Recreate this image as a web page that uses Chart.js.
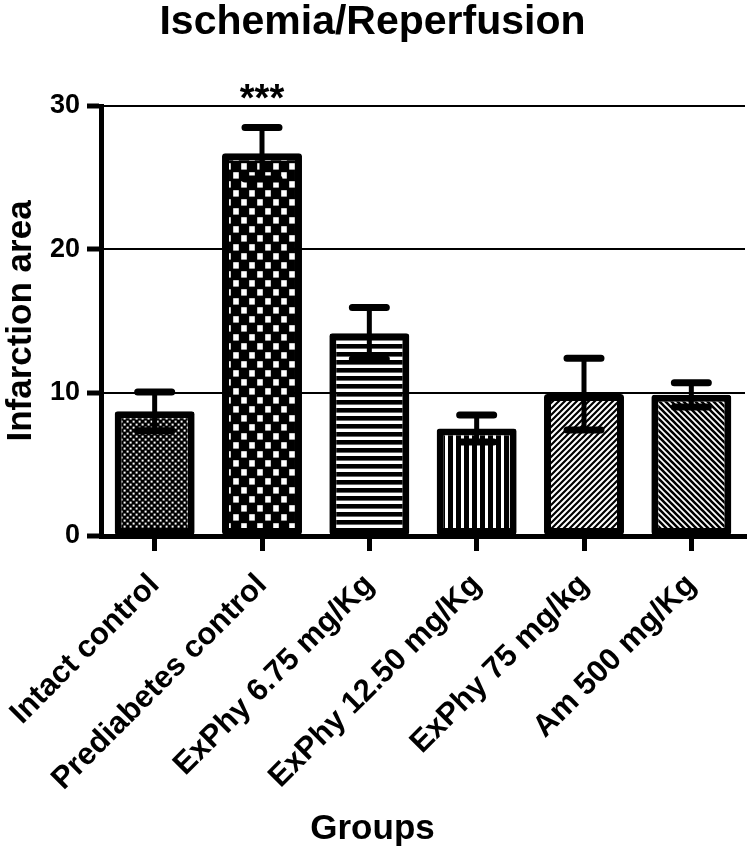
<!DOCTYPE html>
<html>
<head>
<meta charset="utf-8">
<title>Ischemia/Reperfusion</title>
<script src="https://cdn.jsdelivr.net/npm/chart.js@4.4.1/dist/chart.umd.min.js"></script>
<style>
  html, body { margin: 0; padding: 0; background: #fff; }
  #wrap { width: 747px; height: 852px; }
</style>
</head>
<body>
<div id="wrap"><canvas id="chart" width="747" height="852"></canvas></div>
<script>
// valeurs
const groups = ['Intact control', 'Prediabetes control', 'ExPhy 6.75 mg/Kg', 'ExPhy 12.50 mg/Kg', 'ExPhy 75 mg/kg', 'Am 500 mg/Kg'];
const infarctionArea = [8.7, 26.7, 14.15, 7.5, 9.9, 9.85];
const sem = [1.35, 1.8, 1.8, 0.95, 2.5, 0.85];
const stars = ['', '***', '', '', '', ''];
const yMin = 0, yMax = 30, yStep = 10;

const FONT = "'Liberation Sans', Arial, sans-serif";
const canvas = document.getElementById('chart');
const ctx = canvas.getContext('2d');

// motifs de remplissage des barres
function tile(w, h, draw) {
  const c = document.createElement('canvas');
  c.width = w; c.height = h;
  const g = c.getContext('2d');
  g.fillStyle = '#fff';
  g.fillRect(0, 0, w, h);
  g.fillStyle = '#000';
  g.strokeStyle = '#000';
  draw(g, w, h);
  return ctx.createPattern(c, 'repeat');
}

const dots = tile(6, 6, (g, w, h) => {
  g.fillRect(0, 0, w, h);
  g.fillStyle = '#fff';
  g.fillRect(0.6, 0.6, 2, 2);
  g.fillRect(3.6, 3.6, 2, 2);
});
const checker = tile(16, 18, (g, w, h) => {
  g.fillRect(0, 0, w, h);
  g.fillStyle = '#fff';
  g.fillRect(1.2, 1.2, 5.6, 6.4);
  g.fillRect(9.2, 10.2, 5.6, 6.4);
});
const hLines = tile(8, 8, (g, w, h) => {
  g.fillRect(0, 0, w, 4.6);
});
const vLines = tile(8, 8, (g, w, h) => {
  g.fillRect(0, 0, 5, h);
});
function diag(size, width, up) {
  return tile(size, size, (g, s) => {
    g.lineWidth = width;
    g.beginPath();
    if (up) {
      g.moveTo(-1, s + 1); g.lineTo(s + 1, -1);
      g.moveTo(-1, 1); g.lineTo(1, -1);
      g.moveTo(s - 1, s + 1); g.lineTo(s + 1, s - 1);
    } else {
      g.moveTo(-1, -1); g.lineTo(s + 1, s + 1);
      g.moveTo(s - 1, -1); g.lineTo(s + 1, 1);
      g.moveTo(-1, s - 1); g.lineTo(1, s + 1);
    }
    g.stroke();
  });
}
const diagUp = diag(6, 2.2, true);
const diagDown = diag(6, 2.6, false);
const fills = [dots, checker, hLines, vLines, diagUp, diagDown];

// barres d'erreur + étoiles
const errorBars = {
  id: 'errorBars',
  afterDatasetsDraw(chart) {
    const c = chart.ctx;
    const y = chart.scales.y;
    const meta = chart.getDatasetMeta(0);
    c.save();
    c.strokeStyle = '#000';
    c.lineCap = 'round';
    meta.data.forEach((bar, i) => {
      const top = y.getPixelForValue(infarctionArea[i] + sem[i]);
      const bot = y.getPixelForValue(infarctionArea[i] - sem[i]);
      c.lineWidth = 5;
      c.beginPath();
      c.moveTo(bar.x, top);
      c.lineTo(bar.x, bot);
      c.stroke();
      c.lineWidth = 7;
      c.beginPath();
      c.moveTo(bar.x - 17, top); c.lineTo(bar.x + 17, top);
      c.moveTo(bar.x - 17, bot); c.lineTo(bar.x + 17, bot);
      c.stroke();
      if (stars[i]) {
        c.fillStyle = '#000';
        c.font = 'bold 38px ' + FONT;
        c.textAlign = 'center';
        c.textBaseline = 'alphabetic';
        c.fillText(stars[i], bar.x, top - 17);
      }
    });
    c.restore();
  }
};

new Chart(canvas, {
  type: 'bar',
  data: {
    labels: groups,
    datasets: [{
      data: infarctionArea,
      backgroundColor: fills,
      borderColor: '#000',
      borderWidth: 7,
      borderRadius: 3,
      borderSkipped: false,
      barPercentage: 0.745,
      categoryPercentage: 1
    }]
  },
  options: {
    responsive: false,
    animation: false,
    devicePixelRatio: 1,
    layout: { padding: { left: 0, right: 2, top: 0, bottom: 0 } },
    plugins: {
      legend: { display: false },
      tooltip: { enabled: false },
      title: {
        display: true,
        text: 'Ischemia/Reperfusion',
        color: '#000',
        font: { family: FONT, size: 41, weight: 'bold', lineHeight: 1 },
        padding: { top: 2, bottom: 63 }
      },
      subtitle: {
        display: true,
        position: 'bottom',
        text: 'Groups',
        color: '#000',
        font: { family: FONT, size: 35, weight: 'bold', lineHeight: 1.2 },
        padding: { top: 0, bottom: 2 }
      }
    },
    scales: {
      x: {
        offset: true,
        border: { display: true, color: '#000', width: 5 },
        grid: { display: true, drawOnChartArea: false, offset: false, color: '#000', lineWidth: 5, tickLength: 15 },
        ticks: {
          color: '#000',
          font: { family: FONT, size: 31, weight: 'bold' },
          minRotation: 45, maxRotation: 45,
          autoSkip: false,
          padding: 16
        },
        afterFit(scale) {
          scale.height = 272;
          scale.paddingLeft = 0;
        }
      },
      y: {
        min: yMin, max: yMax,
        border: { display: true, color: '#000', width: 5 },
        grid: { color: '#000', lineWidth: 2, tickLength: 14, tickWidth: 5, tickColor: '#000' },
        ticks: {
          stepSize: yStep,
          color: '#000',
          font: { family: FONT, size: 27, weight: 'bold' },
          padding: 7
        },
        title: {
          display: true,
          text: 'Infarction area',
          color: '#000',
          font: { family: FONT, size: 35, weight: 'bold' },
          padding: { top: 0, bottom: 0 }
        },
        afterFit(scale) { scale.width = 101; }
      }
    }
  },
  plugins: [errorBars]
});
</script>
</body>
</html>
